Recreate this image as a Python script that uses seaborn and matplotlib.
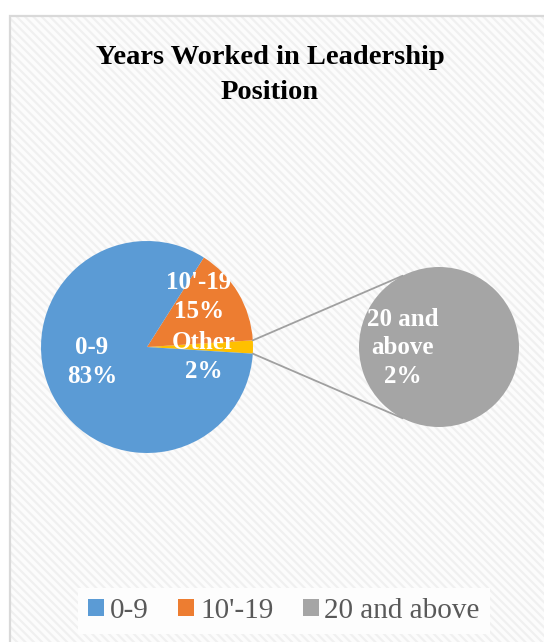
import matplotlib
matplotlib.use("Agg")
import matplotlib.pyplot as plt
import seaborn as sns
from matplotlib.patches import Rectangle, Patch
import numpy as np

# ---- data ----
categories = ["0-9", "10'-19", "20 and above"]
values = [83, 15, 2]
other_label = "Other"
title = "Years Worked in Leadership\nPosition"

sns.set_style("white")
plt.rcParams["font.family"] = ["Liberation Serif", "DejaVu Serif"]
plt.rcParams["hatch.linewidth"] = 1.6

colors = {"0-9": "#5B9BD5", "10'-19": "#ED7D31", "20 and above": "#A5A5A5", "Other": "#FFC000"}

W, H = 544, 642
fig = plt.figure(figsize=(W / 100, H / 100), dpi=100)
fig.patch.set_facecolor("white")

ax = fig.add_axes([0, 0, 1, 1])
ax.set_xlim(0, W)
ax.set_ylim(0, H)
ax.set_aspect("equal")
ax.axis("off")

# background with light downward diagonal pattern and frame
bg = Rectangle((10, -5), W, H - 16 + 5, facecolor="#fcfcfc", edgecolor="#f0f0f0",
               hatch="\\\\\\\\", linewidth=0, zorder=0)
ax.add_patch(bg)
frame = Rectangle((10, -5), W, H - 16 + 5, facecolor="none", edgecolor="#d9d9d9",
                  linewidth=1.6, zorder=1)
ax.add_patch(frame)

# main pie: Other (sum of secondary), then 10'-19, then 0-9
other_val = values[2]
main_vals = [other_val, values[1], values[0]]
main_cols = [colors["Other"], colors["10'-19"], colors["0-9"]]
other_angle = 360 * other_val / sum(values)
c1 = (147, 295)
r1 = 106
ax.pie(main_vals, colors=main_cols, startangle=-other_angle / 2, counterclock=True,
       center=c1, radius=r1, wedgeprops=dict(linewidth=0), frame=True)

# secondary pie
c2 = (439, 295)
r2 = 80
ax.pie([values[2]], colors=[colors["20 and above"]], center=c2, radius=r2,
       wedgeprops=dict(linewidth=0), frame=True)
ax.set_xlim(0, W)
ax.set_ylim(0, H)
ax.axis("off")

# connector lines
a = np.deg2rad(other_angle / 2)
b = np.deg2rad(117)
for s in (1, -1):
    x0 = c1[0] + r1 * np.cos(s * a)
    y0 = c1[1] + r1 * np.sin(s * a)
    x1 = c2[0] + r2 * np.cos(s * b)
    y1 = c2[1] + r2 * np.sin(s * b)
    ax.plot([x0, x1], [y0, y1], color="#a0a0a0", linewidth=1.3, zorder=3)

# data labels
lab_kw = dict(color="white", fontweight="bold", fontsize=18, ha="center", va="center",
              linespacing=1.3, zorder=5)
ax.text(92, 280, f"{categories[0]}\n{values[0]}%", **lab_kw)
ax.text(199, 345, f"{categories[1]}\n{values[1]}%", **lab_kw)
ax.text(204, 285, f"{other_label}\n{other_val}%", **lab_kw)
ax.text(403, 294, f"20 and\nabove\n{values[2]}%", **lab_kw)

# title
ax.text(270, 567, title, ha="center", va="center", fontsize=20.5, fontweight="bold",
        color="black", linespacing=1.55, zorder=5)

# legend
handles = [Patch(facecolor=colors[c], edgecolor="none", label=c) for c in categories]
leg = fig.legend(handles=handles, loc="center", bbox_to_anchor=(284 / W, (H - 611) / H),
                 ncol=3, frameon=True, fontsize=21, handlelength=0.55, handleheight=0.55,
                 handletextpad=0.2, columnspacing=1.0, borderpad=0.35, fancybox=False)
leg.get_frame().set_facecolor("#fdfdfd")
leg.get_frame().set_edgecolor("none")
leg.get_frame().set_alpha(1)
for t in leg.get_texts():
    t.set_color("#595959")

fig.savefig("out.png", dpi=100, facecolor="white")
